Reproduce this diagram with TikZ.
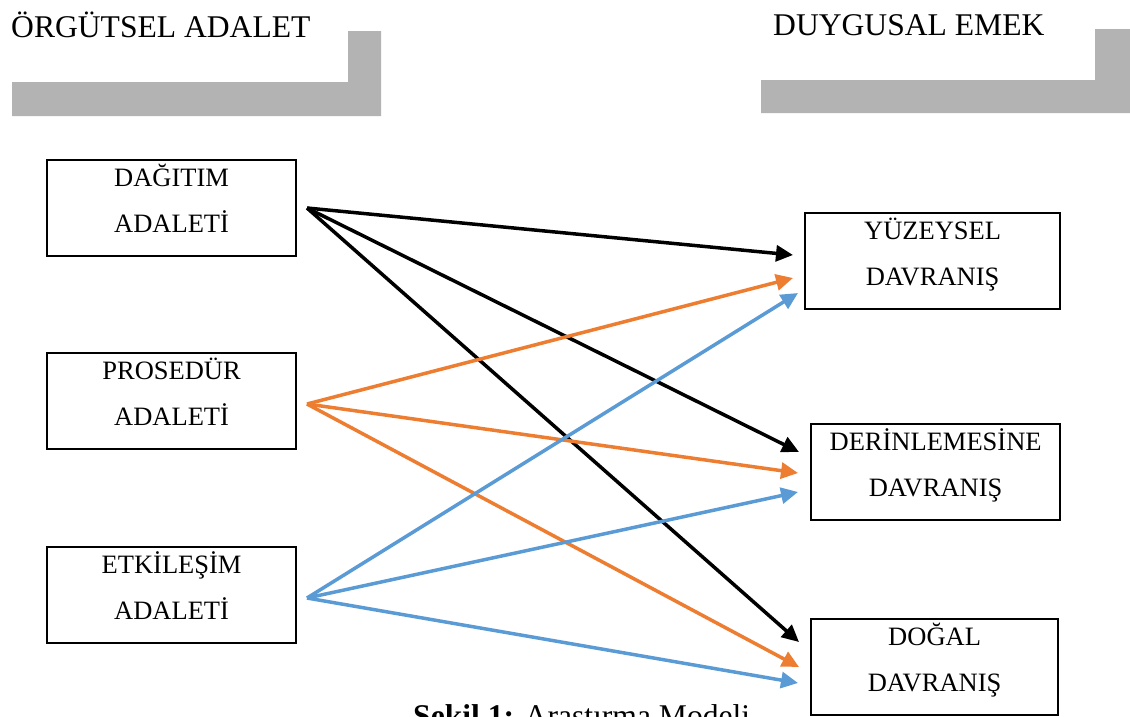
\documentclass[tikz,border=0pt]{standalone}
\usepackage{fontspec}
\setmainfont{Liberation Serif}
\usetikzlibrary{arrows.meta}
\definecolor{hdrgray}{RGB}{179,179,179}
\definecolor{orng}{RGB}{237,125,49}
\definecolor{blu}{RGB}{91,155,213}
\begin{document}
\begin{tikzpicture}[x=1pt,y=-1pt,
  box/.style={draw,line width=2.2pt,inner sep=0pt,anchor=north west},
  lbox/.style={box,minimum width=249pt,minimum height=96pt},
  boxtxt/.style={anchor=base,font=\fontsize{26.5}{30}\selectfont,inner sep=0pt},
  link/.style={line width=3.5pt,-{Triangle[length=17pt,width=16pt]}},
  hdr/.style={anchor=base west,font=\fontsize{31.6}{36}\selectfont,inner sep=0pt}]
\useasboundingbox (0,0) rectangle (1130,716);
% header bars
\fill[hdrgray] (12,82) -- (348,82) -- (348,31) -- (381,31) -- (381,116) -- (12,116) -- cycle;
\fill[hdrgray] (761,80) -- (1095,80) -- (1095,29) -- (1130,29) -- (1130,113) -- (761,113) -- cycle;
\node[hdr] (h1) at (11,37) {ÖRGÜTSEL ADALET};
\node[hdr] (h2) at (773,35) {DUYGUSAL EMEK};
% left boxes
\node[lbox] (da) at (46,159) {};
\node[lbox] (pa) at (46,352) {};
\node[lbox] (ea) at (46,546) {};
% right boxes
\node[box,minimum width=255pt,minimum height=96pt] (yd) at (804,212) {};
\node[box,minimum width=249pt,minimum height=96pt] (dd) at (810,423) {};
\node[box,minimum width=247pt,minimum height=96pt] (gd) at (810,618) {};
% texts
\foreach \b/\a/\c in {da/DAĞITIM/ADALETİ, pa/PROSEDÜR/ADALETİ, ea/ETKİLEŞİM/ADALETİ,
                      yd/YÜZEYSEL/DAVRANIŞ, dd/DERİNLEMESİNE/DAVRANIŞ, gd/DOĞAL/DAVRANIŞ}{
  \node[boxtxt] (\b-1) at ([yshift=-27pt]\b.north) {\a};
  \node[boxtxt] (\b-2) at ([yshift=-73pt]\b.north) {\c};
}
% arrow endpoints
\coordinate (sA) at (307,208);
\coordinate (sP) at (307,404);
\coordinate (sE) at (307,598);
\coordinate (yB) at (793,255);
\coordinate (yO) at (793,278);
\coordinate (yL) at (798,293);
\coordinate (dB) at (799,452);
\coordinate (dO) at (798,473);
\coordinate (dL) at (798,492);
\coordinate (gB) at (799,642);
\coordinate (gO) at (799,667);
\coordinate (gL) at (798,683);
% arrows
\draw[link,black] (sA) -- (yB);
\draw[link,black] (sA) -- (dB);
\draw[link,black] (sA) -- (gB);
\draw[link,orng] (sP) -- (yO);
\draw[link,orng] (sP) -- (dO);
\draw[link,orng] (sP) -- (gO);
\draw[link,blu] (sE) -- (yL);
\draw[link,blu] (sE) -- (dL);
\draw[link,blu] (sE) -- (gL);
% caption
\node[anchor=base west,inner sep=0pt,font=\fontsize{31.6}{36}\selectfont] (cap) at (413,726) {\textbf{Şekil 1:} Araştırma Modeli};
\end{tikzpicture}
\end{document}
